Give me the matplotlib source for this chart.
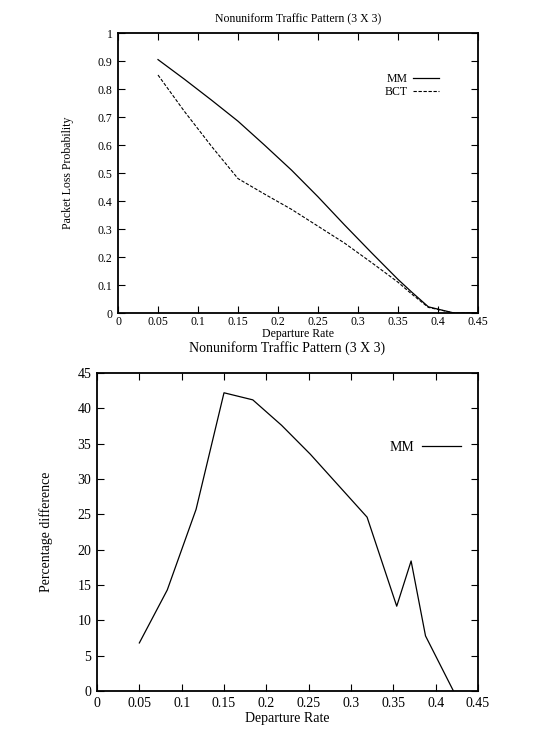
import matplotlib.pyplot as plt
import numpy as np

plt.rcParams['font.family'] = ['Liberation Serif', 'DejaVu Serif']

# top panel: packet loss probability vs departure rate
rate = [0.05, 0.083, 0.117, 0.15, 0.183, 0.217, 0.25, 0.283, 0.317, 0.35, 0.367, 0.388, 0.42, 0.45]
mm_loss = [0.905, 0.835, 0.76, 0.685, 0.60, 0.51, 0.415, 0.315, 0.215, 0.12, 0.075, 0.022, 0.0, 0.0]
bct_loss = [0.85, 0.72, 0.595, 0.48, 0.425, 0.37, 0.31, 0.25, 0.18, 0.11, 0.068, 0.02, 0.0, 0.0]

# bottom panel: percentage difference
diff_rate = [0.05, 0.083, 0.117, 0.15, 0.184, 0.218, 0.252, 0.319, 0.354, 0.371, 0.388, 0.421]
diff_pct = [6.8, 14.3, 25.7, 42.2, 41.2, 37.6, 33.5, 24.6, 12.0, 18.4, 7.8, 0.0]

W, H = 534, 732
fig = plt.figure(figsize=(W / 100, H / 100), dpi=100)

def box(l, t, r, b):
    return [l / W, 1 - b / H, (r - l) / W, (b - t) / H]

def style(ax, fs, xpad=4):
    for s in ax.spines.values():
        s.set_linewidth(1.3)
    ax.tick_params(direction='in', top=True, right=True, length=5, width=0.8,
                   labelsize=fs, pad=4)
    ax.tick_params(axis='x', pad=xpad)

ax1 = fig.add_axes(box(118, 33, 478, 313))
ax1.plot(rate, mm_loss, color='black', lw=0.9, label='MM')
ax1.plot(rate, bct_loss, color='black', lw=0.8, ls=(0, (3, 1.5)), label='BCT')
ax1.set_xlim(0, 0.45)
ax1.set_ylim(0, 1)
ax1.set_xticks(np.arange(0, 0.451, 0.05))
ax1.set_xticklabels(['0', '0.05', '0.1', '0.15', '0.2', '0.25', '0.3', '0.35', '0.4', '0.45'])
ax1.set_yticks(np.arange(0, 1.01, 0.1))
ax1.set_yticklabels(['0', '0.1', '0.2', '0.3', '0.4', '0.5', '0.6', '0.7', '0.8', '0.9', '1'])
style(ax1, 8.5, xpad=2.5)
ax1.set_title('Nonuniform Traffic Pattern (3 X 3)', fontsize=8.5, pad=8)
ax1.set_xlabel('Departure Rate', fontsize=8.5, labelpad=0)
ax1.set_ylabel('Packet Loss Probability', fontsize=8.5, labelpad=17)
ax1.legend(loc='upper right', bbox_to_anchor=(0.905, 0.875), frameon=False, markerfirst=False,
           fontsize=8.5, handlelength=2.2, handletextpad=0.5, labelspacing=0.15,
           borderaxespad=0)

ax2 = fig.add_axes(box(97, 373, 478, 691))
ax2.plot(diff_rate, diff_pct, color='black', lw=0.9, label='MM')
ax2.set_xlim(0, 0.45)
ax2.set_ylim(0, 45)
ax2.set_xticks(np.arange(0, 0.451, 0.05))
ax2.set_xticklabels(['0', '0.05', '0.1', '0.15', '0.2', '0.25', '0.3', '0.35', '0.4', '0.45'])
ax2.set_yticks(np.arange(0, 46, 5))
style(ax2, 10)
ax2.set_title('Nonuniform Traffic Pattern (3 X 3)', fontsize=10, pad=15)
ax2.set_xlabel('Departure Rate', fontsize=10, labelpad=2)
ax2.set_ylabel('Percentage difference', fontsize=10, labelpad=18)
ax2.legend(loc='upper right', bbox_to_anchor=(0.97, 0.805), frameon=False, markerfirst=False,
           fontsize=10, handlelength=2.8, handletextpad=0.6, borderaxespad=0)

fig.savefig('out.png', dpi=100)
